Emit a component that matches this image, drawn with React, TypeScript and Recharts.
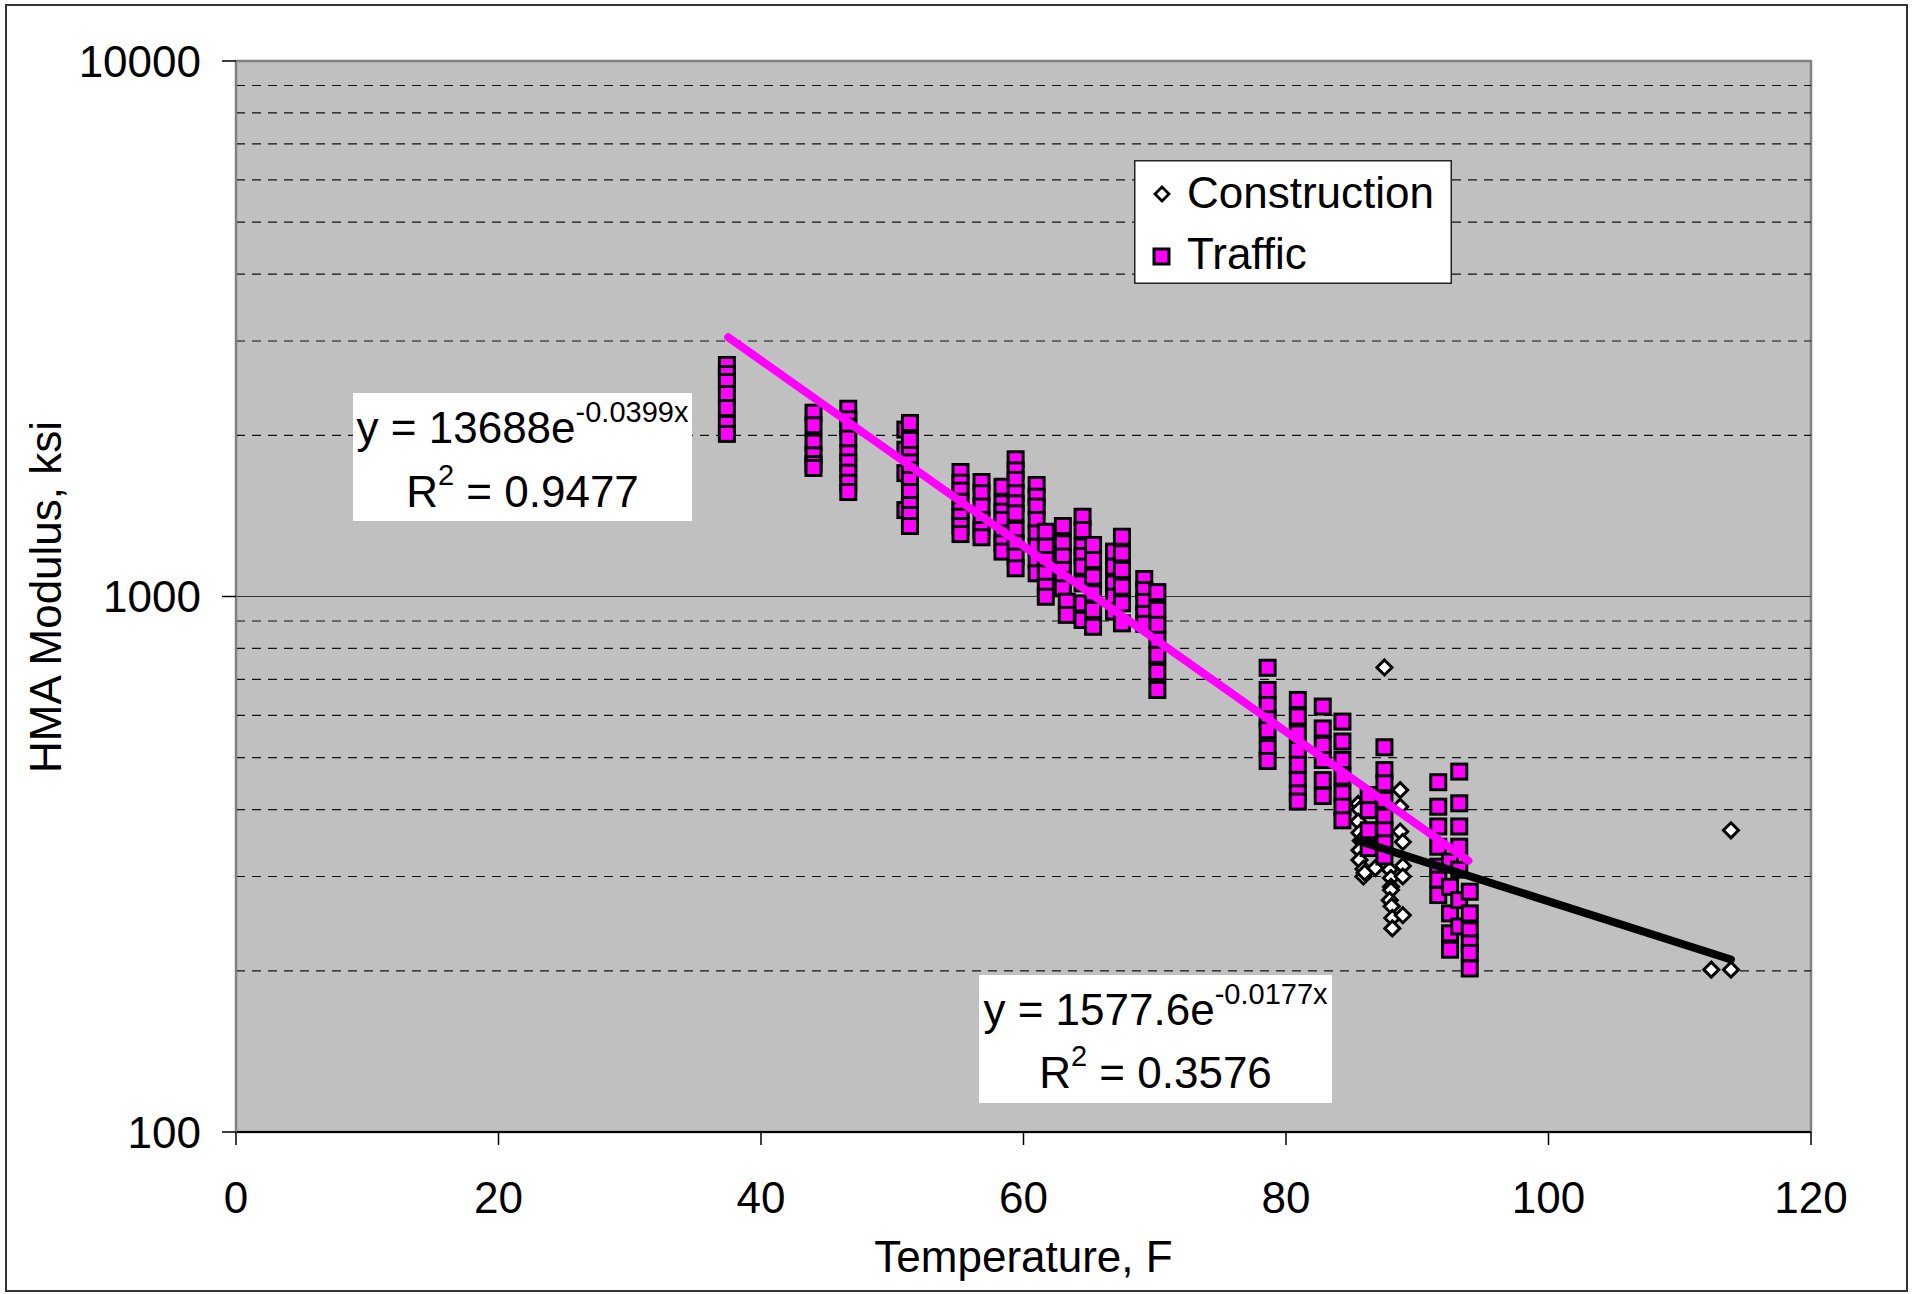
import React from "react";
import {
  CartesianGrid,
  Legend,
  ReferenceArea,
  ReferenceLine,
  Scatter,
  ScatterChart,
  XAxis,
  YAxis,
} from "recharts";

const FONT = '"Liberation Sans", Arial, Helvetica, sans-serif';
const PINK = "#FF00FF";
const PLOT_BG = "#C0C0C0";

const X_TICKS = [0, 20, 40, 60, 80, 100, 120];
const Y_TICKS = [100, 1000, 10000];
const MINOR_GRID = [200, 300, 400, 500, 600, 700, 800, 900, 2000, 3000, 4000, 5000, 6000, 7000, 8000, 9000];
const MAJOR_GRID = [1000];

// traffic readings, one temperature column at a time
const trafficTemps = [
  37.4, 44.0, 46.65, 51.0, 51.35, 55.2, 56.8, 58.4, 59.4, 61.0, 61.7, 63.0, 63.3, 64.5, 65.3,
  66.9, 67.5, 69.2, 70.2, 78.6, 80.9, 82.8, 84.3, 86.3, 87.5, 91.6, 92.5, 93.2, 94.0,
];
const trafficModulus = [
  [2706, 2603, 2515, 2389, 2249, 2100, 2012],
  [2204, 2088, 1938, 1835, 1768, 1738],
  [2242, 2143, 2075, 1971, 1851, 1780, 1703, 1631, 1567],
  [2050, 1880, 1700, 1450],
  [2109, 1960, 1838, 1780, 1722, 1651, 1567, 1482, 1420, 1354],
  [1708, 1631, 1576, 1503, 1450, 1409, 1354, 1308],
  [1636, 1559, 1472, 1390, 1331, 1290],
  [1603, 1493, 1440, 1390, 1312, 1257, 1213],
  [1804, 1720, 1651, 1559, 1493, 1430, 1331, 1257, 1187, 1129],
  [1615, 1536, 1472, 1390, 1312, 1239, 1170, 1105],
  [1321, 1239, 1170, 1105, 1043, 999],
  [1354, 1257, 1187, 1121, 1074, 1036],
  [978, 924],
  [1409, 1331, 1239, 1190, 1137, 1058, 971, 904],
  [1248, 1170, 1089, 1014, 944, 878],
  [1213, 1137, 1058, 999, 937],
  [1293, 1204, 1121, 1043, 971, 891],
  [1078, 1028, 977, 928, 889],
  [1019, 944, 885, 830, 778, 723, 669],
  [736, 669, 627, 590, 563, 521, 493],
  [641, 597, 555, 517, 485, 454, 429, 414],
  [623, 567, 528, 495, 454, 424],
  [584, 536, 495, 461, 429, 405, 382],
  [426, 399, 366, 339],
  [523, 474, 448, 417, 388, 366, 346, 327],
  [450, 405, 372, 341, 313, 296, 277],
  [320, 287, 256, 235, 219],
  [471, 411, 372, 341, 309, 271, 242],
  [281, 256, 238, 225, 216, 202],
];

const constructionTemps = [
  85.5, 85.6, 85.5, 85.6, 85.7, 85.6, 85.6, 85.9, 85.9, 86.0, 86.8, 87.5, 87.9, 88.0, 88.0,
  88.0, 87.9, 88.05, 88.1, 88.1, 88.7, 88.7, 88.7, 88.9, 88.9, 88.9, 88.9, 112.4, 113.9, 113.9,
];
const constructionModulus = [
  410, 400, 380, 362, 350, 336, 322, 310, 300, 305, 311, 737, 309, 298, 287,
  283, 271, 264, 251, 240, 435, 405, 364, 348, 314, 300, 254, 201, 201, 366,
];

const trafficTrendTemps = [37.5, 93.9];
const trafficTrendModulus = [3050, 321];
const constructionTrendTemps = [85.5, 113.9];
const constructionTrendModulus = [350, 210];

const trafficData = trafficTemps.flatMap((t, i) => trafficModulus[i].map((e) => ({ t, e })));
const constructionData = constructionTemps.map((t, i) => ({ t, e: constructionModulus[i] }));
const trafficTrend = trafficTrendTemps.map((t, i) => ({ t, e: trafficTrendModulus[i] }));
const constructionTrend = constructionTrendTemps.map((t, i) => ({ t, e: constructionTrendModulus[i] }));

const TrafficSquare = (props: any) => {
  const { cx, cy } = props;
  if (cx == null || cy == null) return <g />;
  return (
    <rect x={cx - 7.5} y={cy - 7.5} width={15} height={15} fill={PINK} stroke="#000" strokeWidth={3} />
  );
};

const ConstructionDiamond = (props: any) => {
  const { cx, cy } = props;
  if (cx == null || cy == null) return <g />;
  const r = 7.5;
  return (
    <polygon
      points={`${cx},${cy - r} ${cx + r},${cy} ${cx},${cy + r} ${cx - r},${cy}`}
      fill="#fff"
      stroke="#000"
      strokeWidth={3}
    />
  );
};

const NoDot = () => <g />;

const LegendBox = () => (
  <svg width={318} height={124} style={{ display: "block" }}>
    <rect x={0.75} y={0.75} width={316.5} height={122.5} fill="#fff" stroke="#222" strokeWidth={1.5} />
    <polygon points="28,27 35,34 28,41 21,34" fill="#fff" stroke="#000" strokeWidth={2.8} />
    <text x={53} y={48} fontSize={44} fontFamily={FONT} fill="#000">
      Construction
    </text>
    <rect x={20} y={89} width={15} height={15} fill={PINK} stroke="#000" strokeWidth={3} />
    <text x={53} y={109} fontSize={44} fontFamily={FONT} fill="#000">
      Traffic
    </text>
  </svg>
);

export default function App() {
  const tickStyle = { fontSize: 44, fill: "#000", fontFamily: FONT };
  return (
    <div style={{ position: "absolute", left: 0, top: 0, width: 1913, height: 1294, background: "#fff" }}>
      <ScatterChart width={1913} height={1294} margin={{ top: 61, right: 102, left: 136, bottom: 62 }}>
        <CartesianGrid horizontal={false} vertical={false} fill={PLOT_BG} fillOpacity={1} />
        <XAxis
          type="number"
          dataKey="t"
          domain={[0, 120]}
          ticks={X_TICKS}
          height={100}
          tickSize={13}
          tickMargin={37}
          tick={tickStyle}
          tickLine={{ stroke: "#000", strokeWidth: 1.5 }}
          axisLine={{ stroke: "#000", strokeWidth: 2 }}
        />
        <YAxis
          type="number"
          dataKey="e"
          scale="log"
          domain={[100, 10000]}
          allowDataOverflow
          ticks={Y_TICKS}
          width={100}
          tickSize={14}
          tickMargin={21}
          tick={tickStyle}
          tickLine={{ stroke: "#000", strokeWidth: 1.5 }}
          axisLine={{ stroke: "#808080", strokeWidth: 2 }}
        />
        {MINOR_GRID.map((v) => (
          <ReferenceLine key={`g${v}`} y={v} stroke="#111" strokeWidth={1.2} strokeDasharray="9 7" />
        ))}
        {MAJOR_GRID.map((v) => (
          <ReferenceLine key={`m${v}`} y={v} stroke="#333" strokeWidth={1.2} />
        ))}
        <ReferenceArea x1={0} x2={120} y1={100} y2={10000} fill="none" stroke="#808080" strokeWidth={2.5} />
        <Legend
          layout="horizontal"
          verticalAlign="middle"
          align="center"
          content={() => <LegendBox />}
          wrapperStyle={{ left: 1134, top: 160, width: 318, height: 124 }}
        />
        <Scatter name="Construction" data={constructionData} shape={ConstructionDiamond} isAnimationActive={false} />
        <Scatter name="Traffic" data={trafficData} shape={TrafficSquare} isAnimationActive={false} />
        <Scatter
          name="Construction trend"
          data={constructionTrend}
          shape={NoDot}
          legendType="none"
          line={{ stroke: "#000", strokeWidth: 8, strokeLinecap: "round" }}
          isAnimationActive={false}
        />
        <Scatter
          name="Traffic trend"
          data={trafficTrend}
          shape={NoDot}
          legendType="none"
          line={{ stroke: PINK, strokeWidth: 8, strokeLinecap: "round" }}
          isAnimationActive={false}
        />
      </ScatterChart>

      <svg
        width={1913}
        height={1294}
        style={{ position: "absolute", left: 0, top: 0, pointerEvents: "none" }}
        fontFamily={FONT}
      >
        <rect x={6} y={5} width={1901} height={1286} fill="none" stroke="#333" strokeWidth={2} />

        <rect x={353} y={393} width={339} height={128} fill="#fff" />
        <text x={522.5} y={443} fontSize={44} textAnchor="middle" fill="#000">
          y = 13688e<tspan dy={-21} fontSize={29}>-0.0399x</tspan>
        </text>
        <text x={522.5} y={507} fontSize={44} textAnchor="middle" fill="#000">
          R<tspan dy={-22} fontSize={29}>2</tspan>
          <tspan dy={22}> = 0.9477</tspan>
        </text>

        <rect x={979} y={975} width={353} height={128} fill="#fff" />
        <text x={1155.5} y={1025} fontSize={44} textAnchor="middle" fill="#000">
          y = 1577.6e<tspan dy={-21} fontSize={29}>-0.0177x</tspan>
        </text>
        <text x={1155.5} y={1088} fontSize={44} textAnchor="middle" fill="#000">
          R<tspan dy={-22} fontSize={29}>2</tspan>
          <tspan dy={22}> = 0.3576</tspan>
        </text>

        <text x={1023.5} y={1272} fontSize={44} textAnchor="middle" fill="#000">
          Temperature, F
        </text>
        <text x={61} y={597} fontSize={44} textAnchor="middle" fill="#000" transform="rotate(-90, 61, 597)">
          HMA Modulus, ksi
        </text>
      </svg>
    </div>
  );
}
